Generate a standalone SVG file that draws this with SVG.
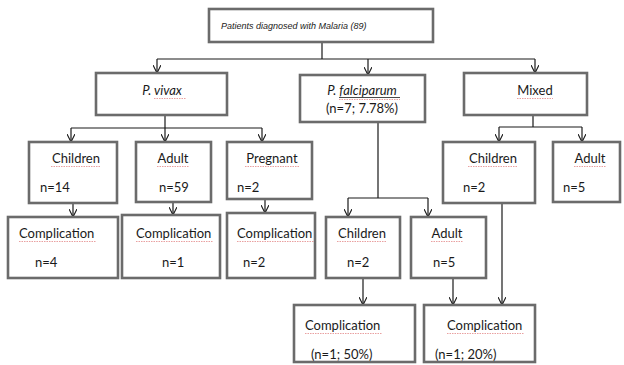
<svg xmlns="http://www.w3.org/2000/svg" width="624" height="365" viewBox="0 0 624 365">
<style>
.box{fill:#fff;stroke:#6b6b6b;stroke-width:2.6}
.ln{fill:none;stroke:#1a1a1a;stroke-width:1.2}
.t{font-family:Lato,"Open Sans","Liberation Sans",sans-serif;font-size:13px;fill:#1a1a1a}
.c{text-anchor:middle}
.i{font-style:italic}
.sp{fill:none;stroke:#e07a7a;stroke-width:0.9;stroke-dasharray:1.5 1;opacity:0.8}
.root{font-family:"Liberation Sans",Arial,sans-serif;font-size:9px;font-style:italic;fill:#1a1a1a}
</style>
<defs>
<marker id="a" viewBox="0 0 10 10" refX="10" refY="5" markerWidth="8" markerHeight="8" markerUnits="userSpaceOnUse" orient="auto">
<path d="M0,0 L10,5 L0,10" fill="none" stroke="#1a1a1a" stroke-width="1.4"/>
</marker>
</defs>
<g id="connectors" class="ln">
<path d="M322,42 V59 M157,59 H535"/>
<path d="M157,59 V73" marker-end="url(#a)"/>
<path d="M368,59 V75" marker-end="url(#a)"/>
<path d="M535,59 V73" marker-end="url(#a)"/>
<path d="M165,115 V128 M71,128 H262"/>
<path d="M71,128 V142" marker-end="url(#a)"/>
<path d="M165,128 V142" marker-end="url(#a)"/>
<path d="M262,128 V142" marker-end="url(#a)"/>
<path d="M73,203 V217" marker-end="url(#a)"/>
<path d="M173,202 V215" marker-end="url(#a)"/>
<path d="M265,199 V213" marker-end="url(#a)"/>
<path d="M533,115 V127 M499,127 H582"/>
<path d="M499,127 V142" marker-end="url(#a)"/>
<path d="M582,127 V142" marker-end="url(#a)"/>
<path d="M378,122 V198 M348,198 H428"/>
<path d="M348,198 V217" marker-end="url(#a)"/>
<path d="M428,198 V217" marker-end="url(#a)"/>
<path d="M363,278 V305" marker-end="url(#a)"/>
<path d="M453,278 V305" marker-end="url(#a)"/>
<path d="M502,203 V305" marker-end="url(#a)"/>
</g>
<g id="root"><rect class="box" x="209" y="9" width="224" height="33"/><text class="root" x="221" y="29">Patients diagnosed with Malaria (89)</text></g>
<g id="vivax"><rect class="box" x="96" y="73" width="131" height="42"/><text class="t c i" x="162" y="95">P. vivax</text></g>
<g id="falciparum"><rect class="box" x="300" y="75" width="125" height="47"/><text class="t c i" x="362" y="95">P. falciparum</text><path d="M339,97.5 H400" stroke="#1a1a1a" stroke-width="0.8" fill="none"/><text class="t c" x="362" y="113">(n=7; 7.78%)</text></g>
<g id="mixed"><rect class="box" x="464" y="73" width="123" height="42"/><text class="t c" x="535" y="95">Mixed</text></g>
<g id="v-children"><rect class="box" x="29" y="142" width="88" height="61"/><text class="t c" x="76" y="163">Children</text><text class="t" x="40" y="192">n=14</text></g>
<g id="v-adult"><rect class="box" x="136" y="142" width="75" height="60"/><text class="t c" x="173" y="163">Adult</text><text class="t" x="159" y="192">n=59</text></g>
<g id="v-pregnant"><rect class="box" x="227" y="142" width="85" height="57"/><text class="t c" x="272" y="163">Pregnant</text><text class="t" x="237" y="192">n=2</text></g>
<g id="v-comp1"><rect class="box" x="8" y="217" width="110" height="61"/><text class="t" x="19" y="238">Complication</text><text class="t" x="35" y="267">n=4</text></g>
<g id="v-comp2"><rect class="box" x="122" y="215" width="98" height="63"/><text class="t" x="136" y="238">Complication</text><text class="t" x="162" y="267">n=1</text></g>
<g id="v-comp3"><rect class="box" x="227" y="213" width="88" height="65"/><text class="t" x="237" y="238">Complication</text><text class="t" x="243" y="267">n=2</text></g>
<g id="m-children"><rect class="box" x="443" y="142" width="92" height="61"/><text class="t c" x="493" y="163">Children</text><text class="t" x="463" y="192">n=2</text></g>
<g id="m-adult"><rect class="box" x="553" y="142" width="67" height="60"/><text class="t c" x="590" y="163">Adult</text><text class="t" x="563" y="192">n=5</text></g>
<g id="f-children"><rect class="box" x="326" y="217" width="74" height="61"/><text class="t c" x="362" y="238">Children</text><text class="t" x="347" y="267">n=2</text></g>
<g id="f-adult"><rect class="box" x="411" y="217" width="75" height="61"/><text class="t c" x="447" y="238">Adult</text><text class="t" x="433" y="267">n=5</text></g>
<g id="f-comp"><rect class="box" x="294" y="305" width="121" height="57"/><text class="t" x="305" y="330">Complication</text><text class="t" x="311" y="359">(n=1; 50%)</text></g>
<g id="fm-comp"><rect class="box" x="424" y="305" width="111" height="57"/><text class="t" x="447" y="330">Complication</text><text class="t" x="435" y="359">(n=1; 20%)</text></g>
<path class="sp" d="M154,98.5 H186 M339,99.5 H400 M517,98.5 H553 M51,166.5 H101 M157,166.5 H189 M245,166.5 H299 M468,166.5 H518 M574,166.5 H606 M19,241.5 H96 M136,241.5 H213 M237,241.5 H314 M337,241.5 H387 M431,241.5 H463 M305,333.5 H382 M447,333.5 H524"/>
</svg>
